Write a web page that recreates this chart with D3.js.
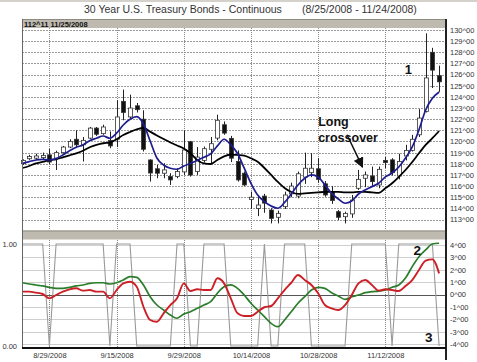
<!DOCTYPE html>
<html>
<head>
<meta charset="utf-8">
<script src="https://cdn.jsdelivr.net/npm/d3@7"></script>
<style>
  body { margin: 0; background: #fff; }
  svg { display: block; font-family: "Liberation Sans", Arial, sans-serif; }
</style>
</head>
<body>
<svg id="chart" width="477" height="362"></svg>
<script>
// daily bars, 8/25/2008 .. 11/24/2008 (63 trading days)
var opens  = [118.0,118.45,118.5,118.55,118.8,118.5,119.0,119.5,120.2,119.7,120.3,121.2,120.7,120.1,120.2,123.6,122.2,123.2,122.0,118.34,
              117.55,117.15,116.85,116.85,117.27,119.98,117.3,118.3,119.3,120.3,121.5,120.28,118.2,117.15,114.8,114.0,115.1,113.85,113.2,114.15,
              115.3,115.1,116.8,117.2,117.55,116.2,115.5,113.7,113.25,113.5,115.8,116.7,116.9,116.1,118.3,118.35,116.9,118.7,119.2,120.6,
              122.7,128.0,125.9];
var highs  = [118.4,118.8,118.9,119.0,119.33,119.17,119.6,120.2,121.0,120.4,121.3,121.3,121.5,120.9,123.7,124.65,124.2,123.45,122.8,118.4,
              117.9,118.05,117.15,117.6,121.0,120.05,119.5,119.55,120.4,122.4,121.8,120.5,119.2,117.3,115.5,115.0,115.3,114.0,113.8,115.5,
              116.3,117.3,119.0,118.95,118.5,116.45,116.0,113.85,113.7,115.2,117.45,117.3,117.75,117.75,118.6,118.5,118.9,119.7,120.6,122.9,
              129.7,128.4,126.8];
var lows   = [117.9,118.35,118.35,118.35,117.98,117.44,118.9,119.4,119.5,118.2,120.2,120.5,120.6,119.4,119.5,121.9,122.0,122.6,119.1,116.4,
              116.7,116.7,116.1,116.7,117.0,116.85,117.0,118.1,118.0,120.1,120.6,118.15,116.4,116.0,113.95,113.3,113.6,112.65,112.65,113.95,
              115.0,114.9,116.2,116.8,116.3,115.05,114.4,112.95,112.65,113.15,115.65,115.9,115.95,115.8,117.6,116.95,116.6,118.3,119.1,120.4,
              122.6,124.8,124.45];
var closes = [118.3,118.65,118.7,118.75,118.16,119.0,119.5,120.0,119.7,120.1,121.2,120.65,121.3,119.6,122.2,122.6,123.0,122.85,119.3,117.17,
              117.15,117.45,116.55,117.3,119.24,116.99,118.6,119.35,119.8,121.9,120.75,118.5,116.55,116.1,115.0,114.3,114.47,113.1,113.55,115.2,
              116.0,117.1,117.6,117.6,116.6,115.2,114.7,113.2,113.55,114.75,116.6,117.0,116.4,117.5,118.1,117.2,118.2,119.2,120.2,122.1,
              125.7,126.4,125.35];

// moving averages as drawn (short = blue, long = black)
var shortMA = [118.04,118.19,118.34,118.40,118.34,118.46,118.79,119.17,119.48,119.69,120.07,120.29,120.49,120.29,120.74,121.48,121.99,122.22,121.57,120.04,
               118.52,117.89,117.60,117.51,117.80,118.04,118.30,118.58,118.88,119.60,120.20,119.69,118.92,117.60,116.25,115.20,114.60,114.21,114.01,114.53,
               115.29,116.10,116.70,117.00,116.82,116.10,115.35,114.84,114.46,114.66,115.29,115.65,115.95,116.25,116.82,117.17,117.71,118.52,119.51,121.03,
               122.82,123.87,124.44];
var longMA  = [117.62,117.80,118.04,118.16,118.34,118.40,118.58,118.76,118.94,119.17,119.48,119.69,119.84,119.89,120.20,120.58,120.85,121.08,121.21,120.88,
               120.54,120.22,119.91,119.64,119.37,118.94,118.34,118.03,117.98,118.34,118.67,118.83,118.79,118.74,118.49,118.19,117.62,117.00,116.37,115.83,
               115.47,115.29,115.34,115.38,115.43,115.47,115.47,115.47,115.43,115.43,115.47,115.47,115.43,115.38,115.80,116.25,116.82,117.44,118.16,118.94,
               119.69,120.29,120.94];

// lower panel
var signal   = [1,1,1,1,0,1,1,1,1,1,1,1,1,0,1,1,1,0,0,0,0,0,0,1,1,0,0,1,1,1,1,0,0,0,0,0,1,0,0,1,1,1,1,0,0,0,0,0,0,1,1,1,1,1,1,0,1,1,1,1,1,1,0];
var greenOsc = [0.95,0.85,0.77,0.69,0.58,0.50,0.50,0.58,0.69,0.77,0.90,0.95,0.95,0.85,0.95,1.17,1.44,1.39,0.77,-0.18,
                -0.85,-1.25,-1.66,-1.92,-1.58,-1.39,-1.12,-0.85,-0.58,0.10,0.63,0.77,0.50,-0.04,-0.71,-1.25,-1.79,-2.33,-2.60,-2.06,
                -1.39,-0.71,-0.18,0.36,0.58,0.50,0.15,-0.12,-0.39,-0.18,-0.04,0.15,0.23,0.28,0.36,0.58,0.77,1.33,2.25,3.05,
                3.60,4.08,4.14];
var redOsc   = [0.23,0.23,0.15,0.04,-0.31,-0.04,0.23,0.42,0.50,0.31,0.36,0.23,0.23,-0.31,0.36,0.90,1.03,0.63,-0.99,-2.06,
                -2.20,-1.52,-0.85,-0.31,0.90,0.28,0.42,0.36,0.36,1.31,0.90,-0.31,-1.52,-1.74,-1.74,-1.39,-1.03,-0.93,-0.31,0.36,
                0.95,1.58,1.17,0.77,0.10,-0.85,-1.12,-1.25,-0.85,-0.04,0.90,1.17,0.77,0.31,0.42,0.36,0.28,0.69,1.17,1.98,
                2.73,2.84,1.71];

var priceTicks = [113,114,115,116,117,118,119,120,121,122,123,124,125,126,127,128,129,130];
var oscTicks   = [-4,-3,-2,-1,0,1,2,3,4];
var sigTicks   = [0, 1];
var dateTickIdx = [4, 14, 24, 34, 44, 54];
var dateLabels  = ["8/29/2008", "9/15/2008", "9/29/2008", "10/14/2008", "10/28/2008", "11/12/2008"];

var svg = d3.select("#chart");
var L = 22, R = 446;
var topY0 = 28, topY1 = 230, botY0 = 240, botY1 = 348;

var x = d3.scaleLinear().domain([0, 62]).range([22.5, 439.1]);
var yPrice = d3.scaleLinear().domain([113, 130]).range([219.5, 30]);
var yOsc = d3.scaleLinear().domain([-4, 4]).range([344, 245]);
var ySig = d3.scaleLinear().domain([0, 1]).range([346, 244]);

// window chrome
svg.append("rect").attr("x", 0).attr("y", 0).attr("width", 477).attr("height", 2).attr("fill", "#d4d1cb");

svg.append("text")
  .attr("x", 84).attr("y", 13)
  .attr("font-size", 10.5).attr("fill", "#333")
  .text("30 Year U.S. Treasury Bonds -  Continuous");
svg.append("text")
  .attr("x", 302).attr("y", 13)
  .attr("font-size", 10.5).attr("fill", "#333")
  .text("(8/25/2008 - 11/24/2008)");

// panel header bars
[[19, 9], [230.5, 9]].forEach(function(b) {
  svg.append("rect")
    .attr("x", L).attr("y", b[0]).attr("width", R - L).attr("height", b[1])
    .attr("fill", "#bebab0");
  svg.append("line")
    .attr("x1", L).attr("x2", R).attr("y1", b[0] + 0.5).attr("y2", b[0] + 0.5)
    .attr("stroke", "#8e8b83");
});
svg.append("text")
  .attr("x", 24).attr("y", 26.5)
  .attr("font-size", 7.5).attr("font-weight", "bold").attr("fill", "#111")
  .text("112^11  11/25/2008");

// grids
var grid = svg.append("g");
grid.selectAll(".hp").data(priceTicks).enter().append("line")
  .attr("x1", L).attr("x2", R)
  .attr("y1", function(d) { return Math.round(yPrice(d)) + 0.5; })
  .attr("y2", function(d) { return Math.round(yPrice(d)) + 0.5; })
  .attr("stroke", "#9a9a9a").attr("stroke-dasharray", "2,1");

grid.selectAll(".ho").data(oscTicks).enter().append("line")
  .attr("x1", L).attr("x2", R)
  .attr("y1", function(d) { return Math.round(yOsc(d)) + 0.5; })
  .attr("y2", function(d) { return Math.round(yOsc(d)) + 0.5; })
  .attr("stroke", function(d) { return d == 0 ? "#555" : "#cfcfcf"; });

grid.selectAll(".vt").data(dateTickIdx).enter().append("line")
  .attr("x1", function(d) { return Math.round(x(d)) + 0.5; })
  .attr("x2", function(d) { return Math.round(x(d)) + 0.5; })
  .attr("y1", topY0).attr("y2", topY1)
  .attr("stroke", "#888").attr("stroke-dasharray", "1,1");
grid.selectAll(".vb").data(dateTickIdx).enter().append("line")
  .attr("x1", function(d) { return Math.round(x(d)) + 0.5; })
  .attr("x2", function(d) { return Math.round(x(d)) + 0.5; })
  .attr("y1", botY0).attr("y2", botY1)
  .attr("stroke", "#888").attr("stroke-dasharray", "1,1");

// candles
var bars = svg.append("g").selectAll("g")
  .data(closes)
  .enter()
  .append("g");

bars.append("line")
  .attr("x1", function(d, i) { return Math.round(x(i)) + 0.5; })
  .attr("x2", function(d, i) { return Math.round(x(i)) + 0.5; })
  .attr("y1", function(d, i) { return yPrice(highs[i]); })
  .attr("y2", function(d, i) { return yPrice(lows[i]); })
  .attr("stroke", "#222").attr("stroke-width", 1);

bars.append("rect")
  .attr("x", function(d, i) { return Math.round(x(i)) - 1.5; })
  .attr("width", 4)
  .attr("y", function(d, i) { return yPrice(Math.max(opens[i], closes[i])); })
  .attr("height", function(d, i) {
    return Math.max(1.5, Math.abs(yPrice(opens[i]) - yPrice(closes[i])));
  })
  .attr("fill", function(d, i) { return closes[i] >= opens[i] ? "#fff" : "#111"; })
  .attr("stroke", "#333").attr("stroke-width", 0.8);

// moving averages
var priceLine = d3.line()
  .x(function(d, i) { return x(i); })
  .y(function(d) { return yPrice(d); })
  .curve(d3.curveMonotoneX);

svg.append("path").attr("d", priceLine(longMA))
  .attr("fill", "none").attr("stroke", "#000").attr("stroke-width", 1.8);
svg.append("path").attr("d", priceLine(shortMA))
  .attr("fill", "none").attr("stroke", "#1d1d8f").attr("stroke-width", 1.7);

// lower panel lines
var sigLine = d3.line()
  .x(function(d, i) { return x(i); })
  .y(function(d) { return ySig(d); });
var oscLine = d3.line()
  .x(function(d, i) { return x(i); })
  .y(function(d) { return yOsc(d); })
  .curve(d3.curveMonotoneX);

svg.append("path").attr("d", sigLine(signal))
  .attr("fill", "none").attr("stroke", "#9a9a9a").attr("stroke-width", 1.1);
svg.append("path").attr("d", oscLine(greenOsc))
  .attr("fill", "none").attr("stroke", "#2a7d2a").attr("stroke-width", 1.7);
svg.append("path").attr("d", oscLine(redOsc))
  .attr("fill", "none").attr("stroke", "#cc1f26").attr("stroke-width", 1.9);

// frame
svg.append("line").attr("x1", L + 0.5).attr("x2", L + 0.5).attr("y1", 19).attr("y2", botY1)
  .attr("stroke", "#666");
svg.append("line").attr("x1", R).attr("x2", R).attr("y1", 19).attr("y2", 360)
  .attr("stroke", "#222").attr("stroke-width", 2);
svg.append("line").attr("x1", L).attr("x2", R).attr("y1", botY1).attr("y2", botY1)
  .attr("stroke", "#111").attr("stroke-width", 2);

// axes
function styleAxis(g) {
  g.select(".domain").remove();
  g.selectAll("text").attr("fill", "#333").attr("font-size", 7.5)
    .attr("font-family", "'Liberation Sans', Arial, sans-serif");
}

svg.append("g")
  .attr("transform", "translate(" + (R + 2) + ",0)")
  .call(d3.axisRight(yPrice).tickValues(priceTicks).tickSize(0).tickPadding(2)
    .tickFormat(function(d) { return d + "^00"; }))
  .call(styleAxis);

svg.append("g")
  .attr("transform", "translate(" + (R + 2) + ",0)")
  .call(d3.axisRight(yOsc).tickValues(oscTicks).tickSize(0).tickPadding(2)
    .tickFormat(function(d) { return d + "^00"; }))
  .call(styleAxis);

svg.append("g")
  .attr("transform", "translate(19,0)")
  .call(d3.axisLeft(ySig).tickValues(sigTicks).tickSize(0).tickPadding(2)
    .tickFormat(d3.format(".2f")))
  .call(styleAxis);

svg.append("g")
  .attr("transform", "translate(0," + (botY1 + 2) + ")")
  .call(d3.axisBottom(x).tickValues(dateTickIdx).tickSize(0).tickPadding(3)
    .tickFormat(function(d, i) { return dateLabels[i]; }))
  .call(styleAxis);

// annotations
function note(t, xi, py, size) {
  svg.append("text")
    .attr("x", x(xi)).attr("y", py)
    .attr("font-size", size).attr("font-weight", "bold").attr("fill", "#111")
    .text(t);
}
note("1", 56.9, yPrice(126.05), 13);
note("Long", 44, yPrice(121.4), 12.5);
note("crossover", 44, yPrice(119.95), 12.5);
note("2", 58.2, yOsc(3.2), 13.5);
note("3", 59.9, yOsc(-3.8), 13.5);

svg.append("defs").append("marker")
  .attr("id", "ah").attr("viewBox", "0 0 10 10")
  .attr("refX", 9).attr("refY", 5)
  .attr("markerWidth", 7).attr("markerHeight", 7)
  .attr("orient", "auto")
  .append("path").attr("d", "M0,0 L10,5 L0,10 z").attr("fill", "#111");

svg.append("line")
  .attr("x1", x(48.3)).attr("y1", yPrice(120.6))
  .attr("x2", x(50.6)).attr("y2", yPrice(117.7))
  .attr("stroke", "#111").attr("stroke-width", 1.5)
  .attr("marker-end", "url(#ah)");
</script>
</body>
</html>
